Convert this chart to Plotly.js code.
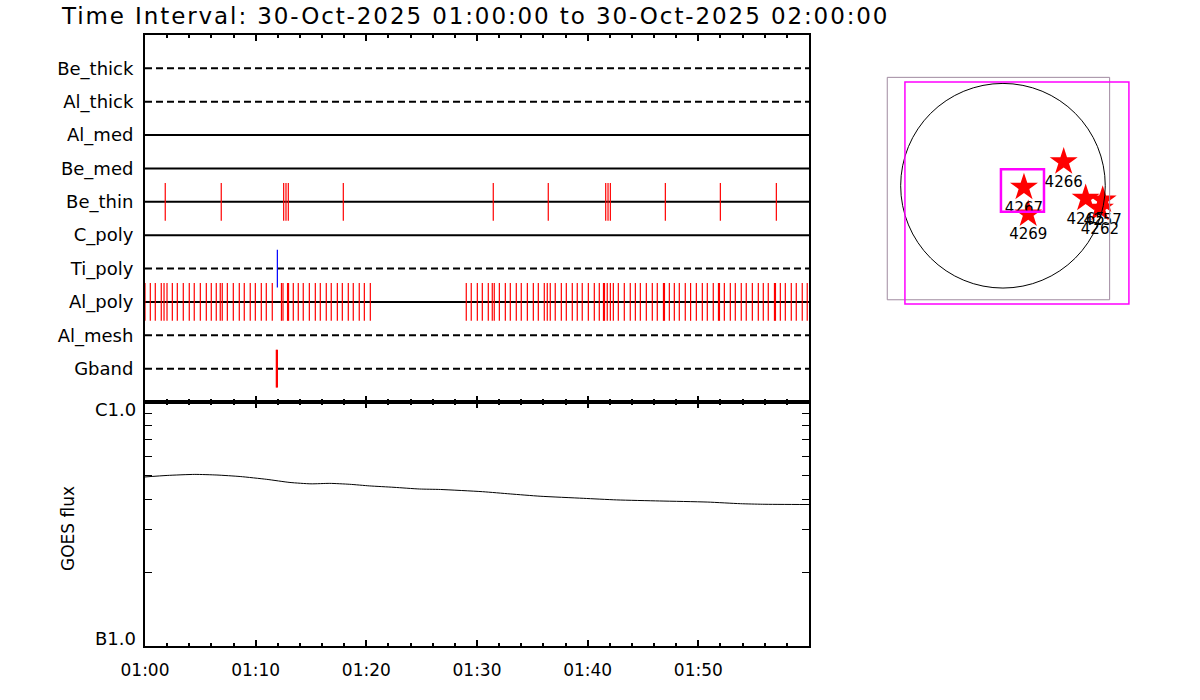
<!DOCTYPE html>
<html>
<head>
<meta charset="utf-8">
<script src="https://cdn.plot.ly/plotly-3.0.1.min.js"></script>
<style>
html,body{margin:0;padding:0;background:#fff;}
#chart{width:1200px;height:700px;}
#chart .gtitle{letter-spacing:1.9px;}
</style>
</head>
<body>
<div id="chart"></div>
<script>
// ---------- DATA ----------
const titleText = "Time Interval: 30-Oct-2025 01:00:00 to 30-Oct-2025 02:00:00";
const filters = ["Be_thick","Al_thick","Al_med","Be_med","Be_thin","C_poly","Ti_poly","Al_poly","Al_mesh","Gband"];
const filterDashed = [true,true,false,false,false,false,true,false,true,true];

// event times, minutes after 01:00
const beThinEvents = [1.83,6.89,12.53,12.74,12.95,17.92,31.47,36.44,41.63,41.84,42.05,47.02,51.99,57.05];
const tiPolyEvents = [11.96];
const gbandEvents = [11.88,11.95];
const alPolyEvents = [0.0,0.48,0.93,1.47,1.72,1.99,2.47,2.92,3.46,4.00,4.45,5.00,5.54,5.99,6.44,6.80,6.98,7.44,7.98,8.52,8.97,9.51,9.97,10.51,10.96,11.50,12.33,12.47,12.88,12.97,13.40,13.85,14.30,14.85,15.39,15.84,16.38,16.83,17.38,17.83,18.37,18.82,19.36,19.82,20.36,
  29.03,29.48,30.03,30.48,31.02,31.38,31.56,32.02,32.56,33.01,33.55,34.00,34.55,35.09,35.54,36.08,36.35,36.62,37.07,37.62,38.07,38.61,39.06,39.51,40.06,40.60,41.05,41.43,41.52,41.77,42.05,42.32,42.77,43.31,43.85,44.31,44.76,45.30,45.84,46.29,46.85,46.94,47.38,47.83,48.28,48.82,49.30,49.82,50.36,50.81,51.35,51.82,51.91,52.35,52.89,53.34,53.88,54.33,54.88,55.42,55.87,56.32,56.88,56.97,57.41,57.86,58.40,58.85,59.39,59.84];

// GOES flux (W/m^2) vs minutes after 01:00
const goesMinutes = [0,2,4.5,6.5,8.6,11,13.1,15,16.7,18.5,20.3,22.5,24.8,26.7,30.5,33,35.7,39.6,42.6,46.5,50.8,53.8,55.8,60];
const goesFlux = [4.93e-7,5.00e-7,5.05e-7,5.02e-7,4.95e-7,4.82e-7,4.68e-7,4.62e-7,4.64e-7,4.60e-7,4.53e-7,4.47e-7,4.40e-7,4.38e-7,4.29e-7,4.20e-7,4.11e-7,4.03e-7,3.97e-7,3.93e-7,3.89e-7,3.83e-7,3.81e-7,3.80e-7];
const goesMinorTicks = [2e-7,3e-7,4e-7,5e-7,6e-7,7e-7,8e-7,9e-7];
const goesLabels = ["B1.0","C1.0"];
const goesLabelVals = [1e-7,1e-6];

const timeTickMinutes = [0,10,20,30,40,50];
const timeTickLabels = ["01:00","01:10","01:20","01:30","01:40","01:50"];

// solar map (arcsec)
const sunRadius = 960;
const fovGrey = [-1086,1001,-1070,1017];     // x0,x1,y0,y1
const fovMagenta = [-920,1182,-1110,973];
const fovSmall = [-19,385,-244,154];
const arNames = ["4266","4267","4269","4265","4257","4262"];
const arX = [570,197,237,776,936,910];
const arY = [225,-15,-266,-118,-134,-212];

// ---------- BUILD ----------
const T0 = Date.UTC(2025,9,30,1,0,0);
function toTime(m){ return new Date(T0 + Math.round(m*60000)).toISOString().replace('T',' ').replace('Z',''); }
const rowY = filters.map((f,i)=> filters.length-1-i);

const FONT = "'DejaVu Sans', sans-serif";
const traces = [];

filters.forEach((f,i)=>{
  traces.push({
    x:[toTime(0),toTime(60)], y:[rowY[i],rowY[i]], mode:'lines', xaxis:'x', yaxis:'y',
    line:{color:'#000', width:2, dash: filterDashed[i] ? '7px,4px' : 'solid'},
    hoverinfo:'skip', showlegend:false
  });
});

function eventTrace(mins, filterName, color, width){
  const yv = rowY[filters.indexOf(filterName)];
  return {
    x: mins.map(toTime), y: mins.map(()=>yv), mode:'markers', xaxis:'x', yaxis:'y',
    marker:{symbol:'line-ns', size:27, color:color, line:{color:color, width:width}},
    hoverinfo:'skip', showlegend:false
  };
}
traces.push(eventTrace(beThinEvents,'Be_thin','#ff0000',1.2));
traces.push(eventTrace(alPolyEvents,'Al_poly','#ff0000',1.2));
traces.push(eventTrace(tiPolyEvents,'Ti_poly','#0000ff',1.2));
traces.push(eventTrace(gbandEvents,'Gband','#ff0000',1.5));

traces.push({
  x: goesMinutes.map(toTime), y: goesFlux, mode:'lines', xaxis:'x2', yaxis:'y2',
  line:{color:'#000', width:1, shape:'spline', smoothing:0.6}, hoverinfo:'skip', showlegend:false
});

// invisible traces so that the top-side tick axes exist
traces.push({x:[toTime(0)], y:[0], xaxis:'x4', yaxis:'y', mode:'markers', marker:{opacity:0}, hoverinfo:'skip', showlegend:false});
traces.push({x:[toTime(0)], y:[5e-7], xaxis:'x5', yaxis:'y2', mode:'markers', marker:{opacity:0}, hoverinfo:'skip', showlegend:false});

traces.push({
  x: arX, y: arY, text: arNames, mode:'markers+text', textposition:'bottom center',
  xaxis:'x3', yaxis:'y3',
  marker:{symbol:'star', size:21, color:'#ff0000', line:{width:0}},
  textfont:{family:FONT, size:15, color:'#000'},
  hoverinfo:'skip', showlegend:false
});

const xDom = [145/1200, 809/1200];
const topDom = [1-402/700, 1-35/700];
const botDom = [1-646/700, 1-402/700];

function rect(b, color, width){
  return {type:'rect', xref:'x3', yref:'y3', x0:b[0], x1:b[1], y0:b[2], y1:b[3], line:{color:color, width:width}, fillcolor:'rgba(0,0,0,0)'};
}
function tickAxis(extra){
  return Object.assign({type:'date', range:[toTime(0),toTime(60)],
    showticklabels:false, ticks:'inside', ticklen:6, tickwidth:2, tickcolor:'#000',
    tick0:toTime(0), dtick:600000,
    minor:{dtick:120000, tick0:toTime(0), ticks:'inside', ticklen:3, tickwidth:2, tickcolor:'#000', showgrid:false},
    showline:false, showgrid:false, zeroline:false}, extra);
}

const layout = {
  width:1200, height:700, paper_bgcolor:'#fff', plot_bgcolor:'#fff',
  margin:{l:0,r:0,t:0,b:0},
  font:{family:FONT, color:'#000', size:17},
  title:{text:titleText, x:62/1200, xanchor:'left', xref:'paper', y:1-16/700, yanchor:'middle', yref:'paper',
         font:{family:FONT, size:23, color:'#000'}},
  showlegend:false,
  xaxis: tickAxis({domain:xDom, anchor:'y', showline:true, linewidth:2, linecolor:'#000', mirror:'ticks'}),
  xaxis4: tickAxis({overlaying:'x', anchor:'y', side:'top'}),
  yaxis:{domain:topDom, anchor:'x', range:[-1,10], tickvals:rowY, ticktext:filters,
    ticks:'', ticklabelstandoff:6, tickfont:{family:FONT, size:18, color:'#000'},
    showline:true, linewidth:2, linecolor:'#000', mirror:true, showgrid:false, zeroline:false},
  xaxis2: tickAxis({domain:xDom, anchor:'y2', showticklabels:true, dtick:undefined, tick0:undefined,
    tickmode:'array', tickvals: timeTickMinutes.map(toTime), ticktext: timeTickLabels,
    tickfont:{family:FONT, size:17, color:'#000'}, ticklabelstandoff:8,
    showline:true, linewidth:2, linecolor:'#000', mirror:'ticks'}),
  xaxis5: tickAxis({overlaying:'x2', anchor:'y2', side:'top'}),
  yaxis2:{domain:botDom, anchor:'x2', type:'log', range:[-7,-6], tickvals:goesMinorTicks,
    showticklabels:false, ticks:'inside', ticklen:7, tickwidth:1, tickcolor:'#000',
    showline:true, linewidth:2, linecolor:'#000', mirror:'ticks', showgrid:false, zeroline:false},
  xaxis3:{domain:[880/1200,1140/1200], anchor:'y3', range:[-1154,1286], visible:false},
  yaxis3:{domain:[1-310/700,1-70/700], anchor:'x3', range:[-1166,1086], visible:false},
  shapes:[
    {type:'circle', xref:'x3', yref:'y3', x0:-sunRadius, x1:sunRadius, y0:-sunRadius, y1:sunRadius, line:{color:'#000', width:1}},
    rect(fovGrey,'#a08aa0',1),
    rect(fovMagenta,'#ff00ff',1.5),
    rect(fovSmall,'#ff00ff',2.5)
  ],
  annotations:[
    ...goesLabels.map((t,i)=>({text:t, xref:'paper', yref:'y2', x:138/1200, y:Math.log10(goesLabelVals[i]),
      xanchor:'right', yanchor:'middle', yshift: i===0 ? 8 : -7, showarrow:false,
      font:{family:FONT, size:18, color:'#000'}})),
    {text:'GOES flux', xref:'paper', yref:'paper', x:68/1200, y:1-529/700, textangle:-90,
      xanchor:'center', yanchor:'middle', showarrow:false, font:{family:FONT, size:17, color:'#000'}}
  ]
};

Plotly.newPlot('chart', traces, layout, {staticPlot:true, displayModeBar:false});
</script>
</body>
</html>
